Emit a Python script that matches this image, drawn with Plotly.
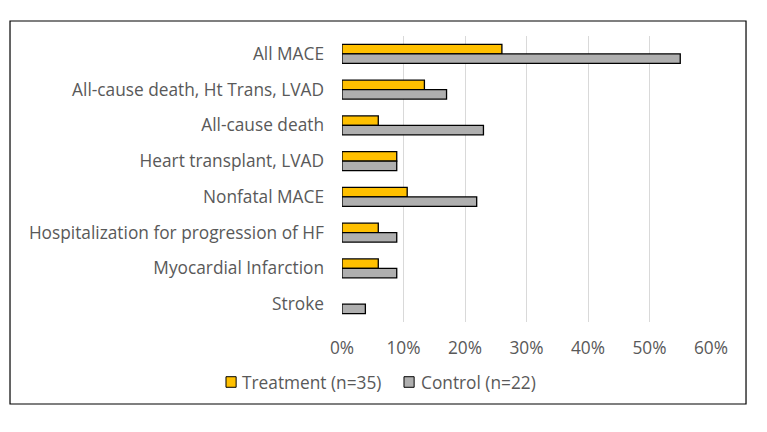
import plotly.graph_objects as go

categories = ["All MACE", "All-cause death, Ht Trans, LVAD", "All-cause death",
              "Heart transplant, LVAD", "Nonfatal MACE",
              "Hospitalization for progression of HF", "Myocardial Infarction", "Stroke"]
treatment = [0.26, 0.134, 0.059, 0.089, 0.106, 0.059, 0.059, 0.0]
control = [0.55, 0.17, 0.23, 0.089, 0.219, 0.089, 0.089, 0.038]
x_ticks = [0, 0.1, 0.2, 0.3, 0.4, 0.5, 0.6]
series_names = ["Treatment (n=35)", "Control (n=22)"]
series_colors = ["#FFC000", "#AFAFAF"]

FONT = "Open Sans"
GREY = "#595959"
FS = 17.3

fig = go.Figure()
for name, vals, col in zip(series_names, [treatment, control], series_colors):
    fig.add_trace(go.Bar(name=name, y=categories, x=vals, orientation="h",
                         marker=dict(color=col,
                                     line=dict(color="black",
                                               width=[1.3 if v > 0 else 0 for v in vals]))))

# page offset of 8px compensated: figure is 759x424
W, H = 759, 424
L, R, T, B = 334, 56, 28, 110

shapes = [dict(type="rect", xref="paper", yref="paper", x0=-0.8997, x1=1.0949,
               y0=-0.2867, y1=1.0524, line=dict(color="black", width=1.2),
               fillcolor="rgba(0,0,0,0)", layer="below")]
annotations = []
legend_sq_x = [-0.3144, 0.168]
legend_txt_x = [-0.2764, 0.2087]
for name, col, sx, tx in zip(series_names, series_colors, legend_sq_x, legend_txt_x):
    shapes.append(dict(type="rect", xref="paper", yref="paper", x0=sx, x1=sx + 0.0275,
                       y0=-0.2283, y1=-0.1913, line=dict(color="black", width=1),
                       fillcolor=col))
    annotations.append(dict(xref="paper", yref="paper", x=tx, y=-0.2098, text=name,
                            showarrow=False, xanchor="left", yanchor="middle",
                            font=dict(family=FONT, size=FS, color=GREY)))

fig.update_layout(
    width=W, height=H,
    margin=dict(l=L, r=R, t=T, b=B),
    plot_bgcolor="white", paper_bgcolor="white",
    barmode="group", bargap=0.47, bargroupgap=0,
    font=dict(family=FONT, size=FS, color=GREY),
    xaxis=dict(range=[0, 0.6], tickvals=x_ticks, tickformat=".0%", showgrid=True,
               gridcolor="#D9D9D9", gridwidth=1, zeroline=False, showline=False,
               ticklabelstandoff=14, tickfont=dict(size=FS, color=GREY)),
    yaxis=dict(autorange="reversed", showgrid=False, showline=False, zeroline=False,
               ticklabelstandoff=17, tickfont=dict(size=FS, color=GREY)),
    showlegend=False,
    shapes=shapes,
    annotations=annotations,
)

fig.write_html("out.html")
